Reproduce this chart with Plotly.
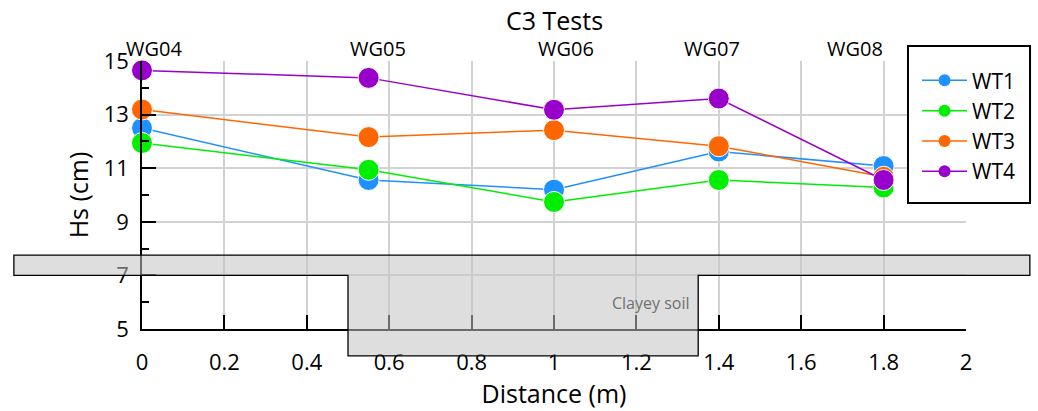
import plotly.graph_objects as go

# ---- data ----
distance = [0, 0.55, 1.0, 1.4, 1.8]
gauges = ["WG04", "WG05", "WG06", "WG07", "WG08"]
gauge_label_x = [0.03, 0.573, 1.029, 1.384, 1.73]
wt1 = [12.50, 10.56, 10.20, 11.62, 11.08]
wt2 = [11.94, 10.94, 9.74, 10.56, 10.28]
wt3 = [13.19, 12.16, 12.42, 11.82, 10.68]
wt4 = [14.65, 14.37, 13.18, 13.60, 10.56]
series_names = ["WT1", "WT2", "WT3", "WT4"]
series_colors = ["#1E90FF", "#00EE00", "#FF6600", "#9900CC"]

# soil profile (data units)
band_x = [-0.311, 2.155]
band_y = [7.0, 7.76]
clay_x = [0.5, 1.35]
clay_y = [4.0, 7.0]

X_RANGE = [0, 2]
Y_RANGE = [5, 15]
FONT = "Open Sans"


def xp(v):
    return (v - X_RANGE[0]) / (X_RANGE[1] - X_RANGE[0])


def yp(v):
    return (v - Y_RANGE[0]) / (Y_RANGE[1] - Y_RANGE[0])


fig = go.Figure()
for name, vals, col in zip(series_names, [wt1, wt2, wt3, wt4], series_colors):
    fig.add_trace(go.Scatter(
        x=distance, y=vals, name=name, mode="lines+markers",
        line=dict(color=col, width=1.5),
        marker=dict(color=col, size=21, line=dict(color="white", width=1)),
        cliponaxis=False, showlegend=False, legendgroup=name,
    ))
# legend entries (smaller symbols, as in the reference legend)
for name, col in zip(series_names, series_colors):
    fig.add_trace(go.Scatter(
        x=[None], y=[None], name=name, mode="lines+markers",
        line=dict(color=col, width=1.5),
        marker=dict(color=col, size=12),
        showlegend=True, legendgroup=name,
    ))

# soil polygon path (paper coordinates so it is not clipped)
bx0, bx1 = xp(band_x[0]), xp(band_x[1])
by0, by1 = yp(band_y[0]), yp(band_y[1])
cx0, cx1 = xp(clay_x[0]), xp(clay_x[1])
cy0 = yp(clay_y[0])
path = (f"M {bx0},{by1} L {bx1},{by1} L {bx1},{by0} L {cx1},{by0} "
        f"L {cx1},{cy0} L {cx0},{cy0} L {cx0},{by0} L {bx0},{by0} Z")
fig.add_shape(type="path", path=path, xref="paper", yref="paper", layer="above",
              fillcolor="rgba(195,195,195,0.55)",
              line=dict(color="black", width=1.3))

# legend frame
fig.add_shape(type="rect", xref="paper", yref="paper", layer="above",
              x0=0.9296, x1=1.0777, y0=0.470, y1=1.056,
              fillcolor="white", line=dict(color="black", width=2))

annotations = []
for g, gx in zip(gauges, gauge_label_x):
    annotations.append(dict(x=gx, y=1.0, xref="x", yref="paper", text=g,
                            showarrow=False, yanchor="bottom", yshift=-3,
                            font=dict(family=FONT, size=20, color="black")))
annotations.append(dict(x=1.335, y=5.98, xref="x", yref="y", text="Clayey soil",
                        showarrow=False, xanchor="right", yanchor="middle",
                        font=dict(family=FONT, size=16, color="#707070")))
annotations.append(dict(x=0.5, y=1, xref="paper", yref="paper", text="C3 Tests",
                        showarrow=False, yanchor="bottom", yshift=22,
                        font=dict(family=FONT, size=25, color="black")))

fig.update_layout(
    width=1038, height=411,
    margin=dict(l=142, r=72, t=61, b=82, autoexpand=False),
    paper_bgcolor="white", plot_bgcolor="white",
    font=dict(family=FONT, color="black"),
    annotations=annotations,
    showlegend=True,
    legend=dict(x=0.9406, xanchor="left", y=1.003, yanchor="top",
                xref="paper", yref="paper",
                borderwidth=0, bgcolor="rgba(0,0,0,0)",
                font=dict(family=FONT, size=21, color="black"),
                itemsizing="trace", itemwidth=45, tracegroupgap=0,
                itemclick=False, itemdoubleclick=False),
    xaxis=dict(range=X_RANGE, tick0=0, dtick=0.2, showgrid=True,
               gridcolor="#d2d2d2", gridwidth=1.5,
               showline=True, linecolor="black", linewidth=1.5,
               ticks="inside", ticklen=14, tickwidth=1.5, tickcolor="black",
               tickfont=dict(family=FONT, size=22), ticklabelstandoff=13,
               zeroline=False,
               title=dict(text="Distance (m)", font=dict(family=FONT, size=25),
                          standoff=10)),
    yaxis=dict(range=Y_RANGE, tick0=5, dtick=2, showgrid=True,
               gridcolor="#d2d2d2", gridwidth=1.5,
               showline=True, linecolor="black", linewidth=1.5,
               ticks="inside", ticklen=14, tickwidth=1.5, tickcolor="black",
               tickfont=dict(family=FONT, size=22), ticklabelstandoff=7,
               zeroline=False,
               minor=dict(tick0=6, dtick=2, ticks="inside", ticklen=7,
                          tickwidth=1.5, tickcolor="black", showgrid=False),
               title=dict(text="Hs (cm)", font=dict(family=FONT, size=25),
                          standoff=8)),
)

fig.write_html("out.html",
               config={"displayModeBar": False},
               post_script="document.body.style.margin='0px';"
                           "document.body.style.overflow='hidden';")
